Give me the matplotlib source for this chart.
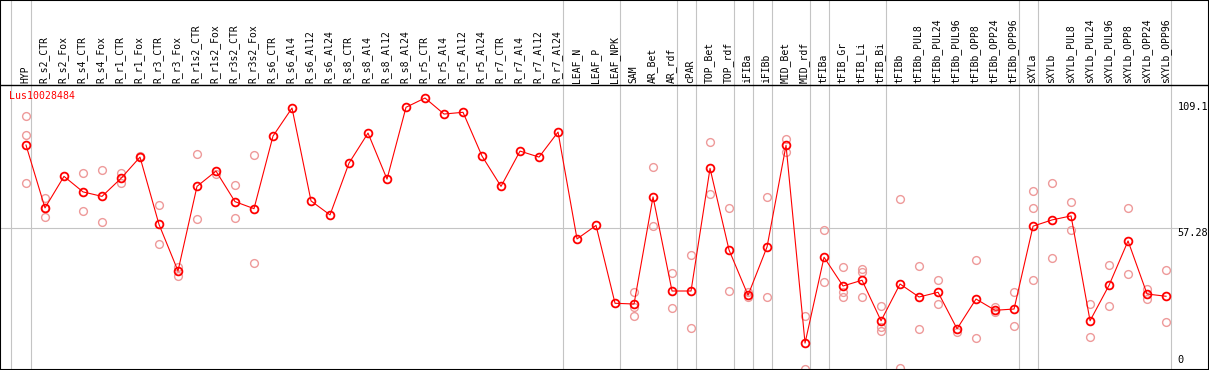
import matplotlib
matplotlib.use("Agg")
import matplotlib.pyplot as plt
from matplotlib import transforms
import numpy as np

gene_id = "Lus10028484"

categories = [
    "HYP", "R_s2_CTR", "R_s2_Fox", "R_s4_CTR", "R_s4_Fox", "R_r1_CTR", "R_r1_Fox",
    "R_r3_CTR", "R_r3_Fox", "R_r1s2_CTR", "R_r1s2_Fox", "R_r3s2_CTR", "R_r3s2_Fox",
    "R_s6_CTR", "R_s6_Al4", "R_s6_Al12", "R_s6_Al24", "R_s8_CTR", "R_s8_Al4",
    "R_s8_Al12", "R_s8_Al24", "R_r5_CTR", "R_r5_Al4", "R_r5_Al12", "R_r5_Al24",
    "R_r7_CTR", "R_r7_Al4", "R_r7_Al12", "R_r7_Al24", "LEAF_N", "LEAF_P", "LEAF_NPK",
    "SAM", "AR_Bet", "AR_rdf", "cPAR", "TOP_Bet", "TOP_rdf", "iFIBa", "iFIBb",
    "MID_Bet", "MID_rdf", "tFIBa", "tFIB_Gr", "tFIB_Li", "tFIB_Bi", "tFIBb",
    "tFIBb_PUL8", "tFIBb_PUL24", "tFIBb_PUL96", "tFIBb_OPP8", "tFIBb_OPP24",
    "tFIBb_OPP96", "sXYLa", "sXYLb", "sXYLb_PUL8", "sXYLb_PUL24", "sXYLb_PUL96",
    "sXYLb_OPP8", "sXYLb_OPP24", "sXYLb_OPP96",
]

means = [
    90.3, 65.2, 77.8, 71.6, 69.8, 77.0, 85.5, 58.6, 40.0, 73.8, 79.9, 67.7, 64.9,
    93.9, 105.1, 68.0, 62.4, 83.1, 95.1, 76.7, 105.4, 109.1, 102.7, 103.4, 85.9,
    73.8, 87.9, 85.5, 95.5, 52.8, 58.2, 27.1,
    26.8, 69.6, 32.0, 32.0, 81.0, 48.4, 30.3, 49.6, 90.2, 11.2, 45.5, 34.0, 36.3,
    20.1, 34.8, 29.6, 31.5, 16.9, 28.8, 24.3, 24.8, 57.9, 60.4, 62.0, 20.1, 34.3,
    52.0, 30.8, 29.9,
]

replicates = [
    [101.9, 94.3, 75.3], [69.0, 61.6, 65.0], [], [79.1, 64.0], [80.2, 59.4],
    [79.0, 75.3], [85.8], [66.2, 50.7], [41.7, 38.1], [86.7, 60.6], [78.7],
    [74.2, 61.2], [86.3, 43.1],
    [], [], [], [], [], [], [], [], [], [], [], [], [], [], [], [], [], [], [],
    [31.6, 25.7, 22.0], [81.4, 58.0], [39.2, 25.1], [46.4, 17.2], [91.5, 70.6],
    [65.2, 32.0], [31.7, 29.5], [69.6, 29.6], [92.7, 87.7], [21.9, 1.0],
    [56.3, 35.5], [41.6, 31.6, 29.7], [40.9, 39.7, 29.5], [25.9, 17.5, 16.1],
    [68.6, 1.1], [41.9, 16.8], [36.3, 26.8], [15.6], [44.3, 13.2], [25.5, 23.5],
    [31.6, 17.9], [71.8, 65.0, 36.3], [75.0, 45.1], [67.4, 56.3], [26.7, 13.6],
    [42.4, 26.0], [65.2, 38.8], [32.9, 28.7], [40.3, 19.5],
]

group_ends = [0, 28, 31, 34, 35, 37, 38, 39, 41, 42, 45, 52, 53, 60]
y_max_label = "109.1"
y_mid_value = 57.28
y_mid_label = "57.28"
y_min_label = "0"

W, H = 1209, 370
fig = plt.figure(figsize=(W / 100, H / 100), dpi=100)
ax = fig.add_axes([0, 0, 1, 1])
ax.set_xlim(-1.368, 62.26)
ax.set_ylim(0.44, 148.26)
ax.set_xticks([])
ax.set_yticks([])
for s in ax.spines.values():
    s.set_color("black")
    s.set_linewidth(1.5)

mono = "DejaVu Sans Mono"
grey = "#c4c4c4"

x = np.arange(len(categories))

# group separator lines
ax.axvline(-0.79, color=grey, lw=0.8, zorder=1)
for g in group_ends:
    ax.axvline(g + 0.25, color=grey, lw=0.8, zorder=1)

# horizontal reference line
ax.axhline(y_mid_value, xmin=0, xmax=1178 / W, color=grey, lw=0.8, zorder=1)

# header separator
header_y = 114.3
ax.axhline(header_y, color="black", lw=1.0, zorder=4)

# replicate points
rx, ry = [], []
for i, reps in enumerate(replicates):
    for r in reps:
        rx.append(i)
        ry.append(r)
ax.plot(rx, ry, "o", ms=5.6, mfc="none", mec="#ee9a9a", mew=1.0, zorder=2, ls="none")

# mean line + markers
ax.plot(x, means, color="red", lw=0.8, zorder=3)
ax.plot(x, means, "o", ms=5.6, mfc="none", mec="red", mew=1.3, zorder=3, ls="none")

# category labels
for i, c in enumerate(categories):
    ax.text(i - 0.05, 115.3, c, rotation=90, ha="center", va="bottom",
            fontfamily=mono, fontsize=7.0, color="black")

# gene id
ax.text(-0.87, 110.0, gene_id, ha="left", va="center", fontfamily=mono,
        fontsize=7.1, color="red")

# value labels on the right
tr = transforms.blended_transform_factory(ax.transAxes, ax.transData)
xl = 1177.5 / W
ax.text(xl, 107.6, y_max_label, transform=tr, ha="left", va="top",
        fontfamily=mono, fontsize=7.4, color="black")
ax.text(xl, y_mid_value - 0.1, y_mid_label, transform=tr, ha="left", va="top",
        fontfamily=mono, fontsize=7.4, color="black")
ax.text(xl, 2.3, y_min_label, transform=tr, ha="left", va="bottom",
        fontfamily=mono, fontsize=7.4, color="black")

fig.savefig("out.png", dpi=100)
